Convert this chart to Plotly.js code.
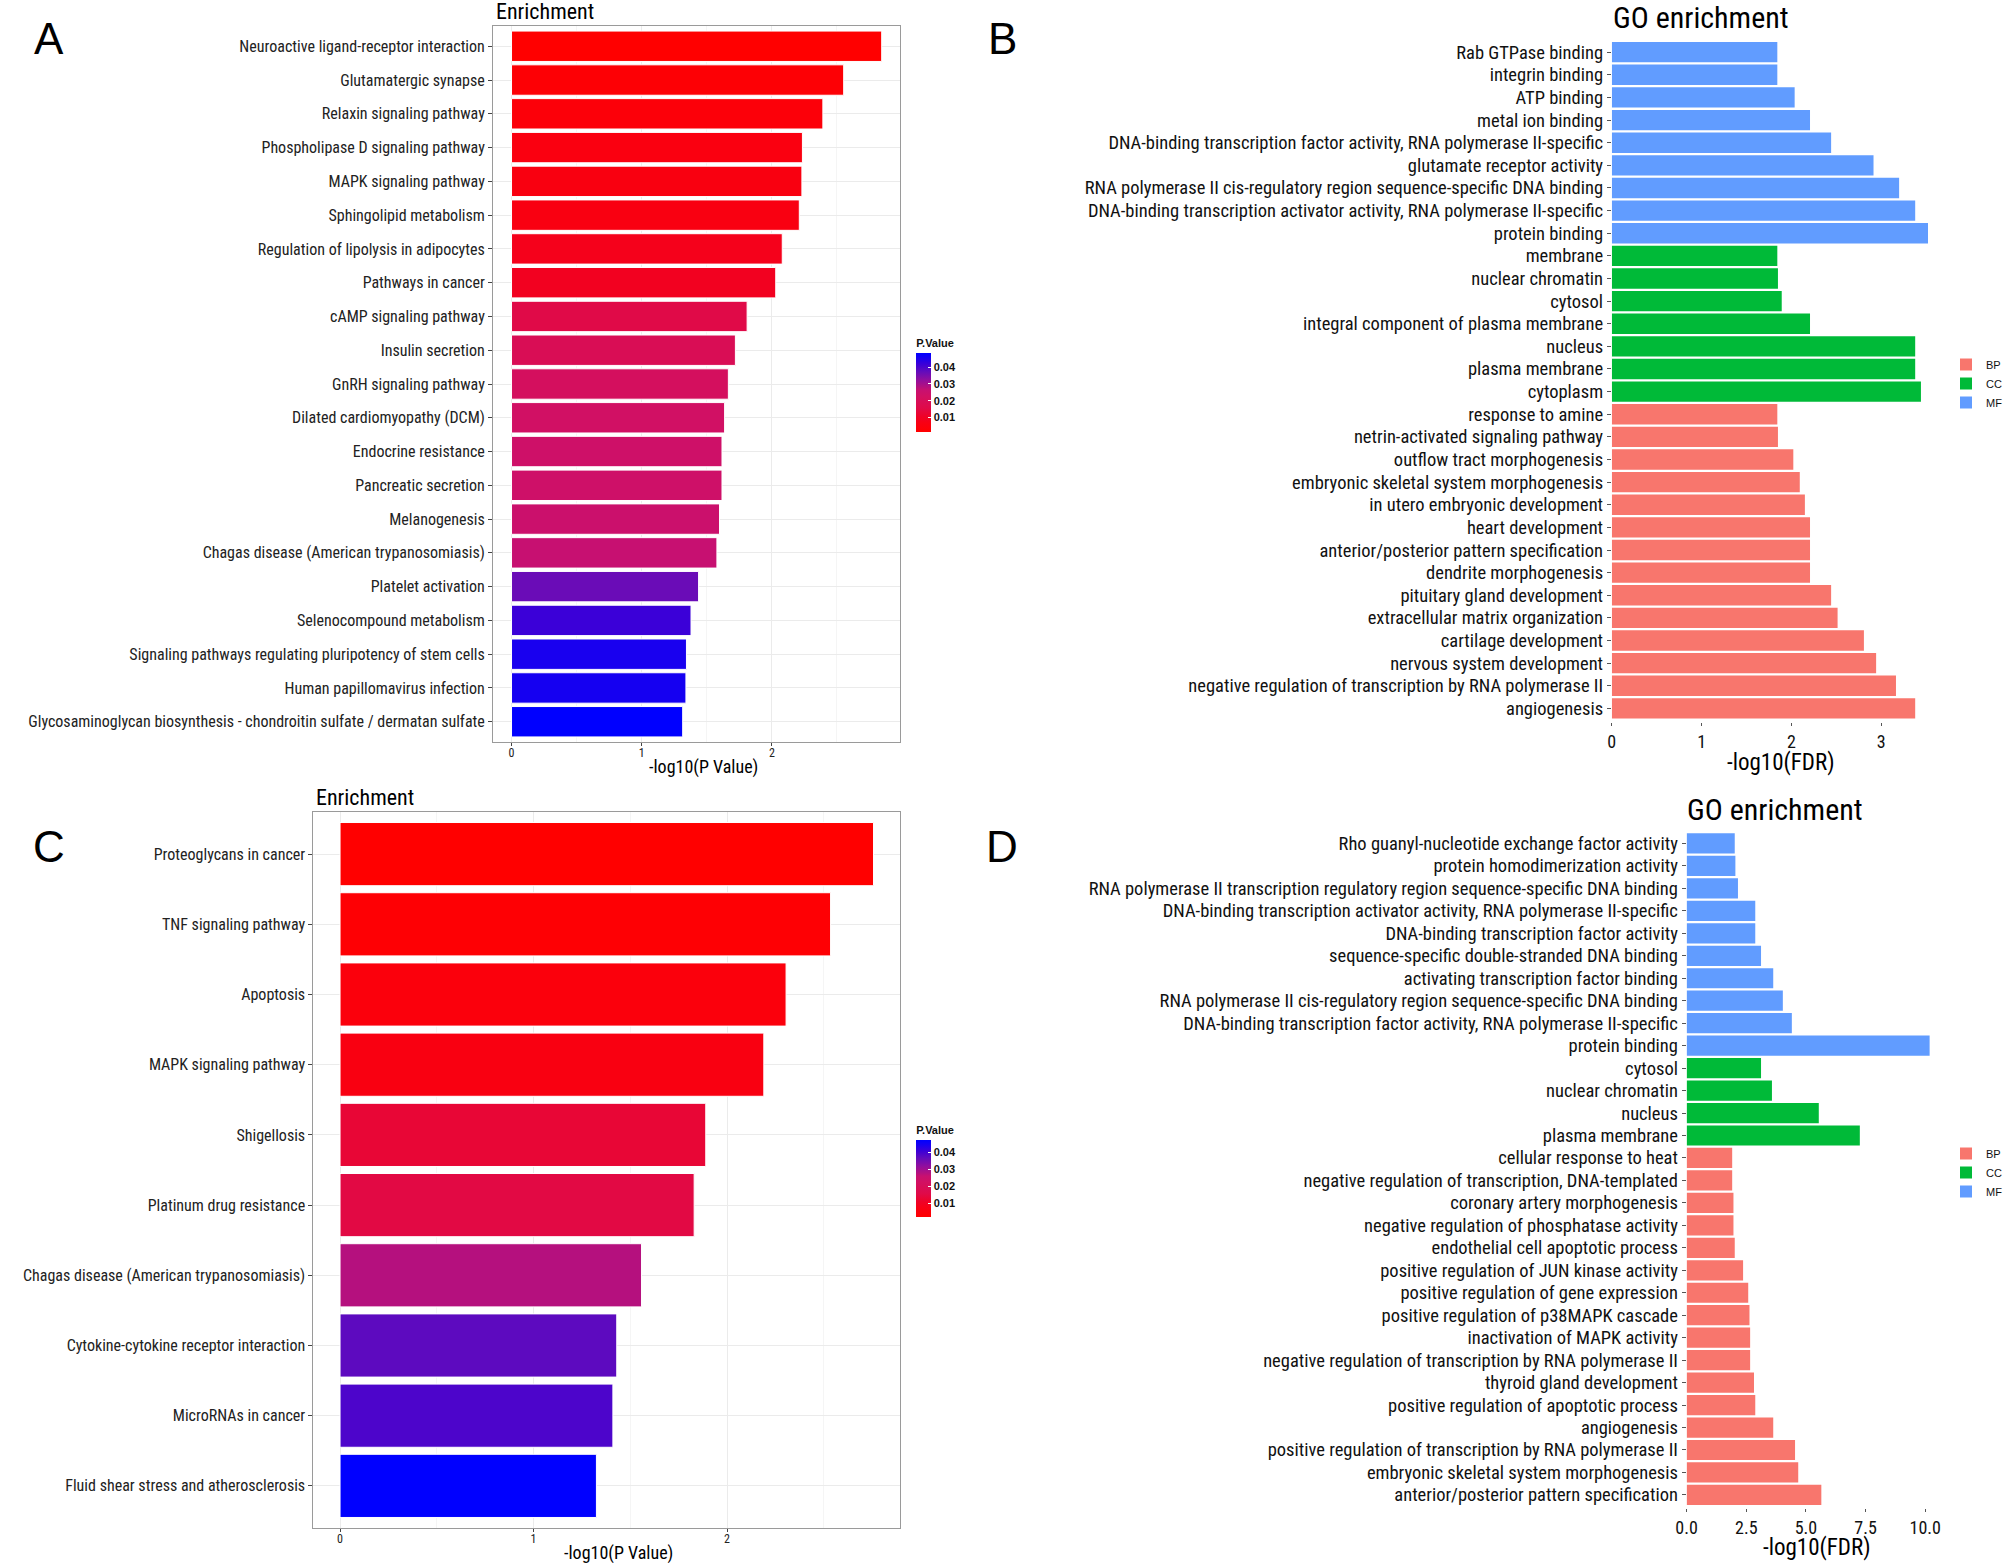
<!DOCTYPE html>
<html>
<head>
<meta charset="utf-8">
<script src="https://cdn.plot.ly/plotly-3.0.1.min.js"></script>
<style>html,body{margin:0;padding:0;background:#fff;}#chart{width:2008px;height:1563px;}</style>
</head>
<body>
<div id="chart"></div>
<script>
// ---------- Panel A (KEGG, -log10 P value) ----------
const aLabels = [
  "Neuroactive ligand-receptor interaction",
  "Glutamatergic synapse",
  "Relaxin signaling pathway",
  "Phospholipase D signaling pathway",
  "MAPK signaling pathway",
  "Sphingolipid metabolism",
  "Regulation of lipolysis in adipocytes",
  "Pathways in cancer",
  "cAMP signaling pathway",
  "Insulin secretion",
  "GnRH signaling pathway",
  "Dilated cardiomyopathy (DCM)",
  "Endocrine resistance",
  "Pancreatic secretion",
  "Melanogenesis",
  "Chagas disease (American trypanosomiasis)",
  "Platelet activation",
  "Selenocompound metabolism",
  "Signaling pathways regulating pluripotency of stem cells",
  "Human papillomavirus infection",
  "Glycosaminoglycan biosynthesis - chondroitin sulfate / dermatan sulfate"
];
const aValues = [2.844, 2.552, 2.392, 2.235, 2.231, 2.211, 2.08, 2.03, 1.81, 1.72, 1.666,
                 1.637, 1.617, 1.617, 1.598, 1.578, 1.437, 1.379, 1.344, 1.340, 1.315];

// ---------- Panel C (KEGG, -log10 P value) ----------
const cLabels = [
  "Proteoglycans in cancer",
  "TNF signaling pathway",
  "Apoptosis",
  "MAPK signaling pathway",
  "Shigellosis",
  "Platinum drug resistance",
  "Chagas disease (American trypanosomiasis)",
  "Cytokine-cytokine receptor interaction",
  "MicroRNAs in cancer",
  "Fluid shear stress and atherosclerosis"
];
const cValues = [2.757, 2.535, 2.305, 2.190, 1.89, 1.83, 1.558, 1.430, 1.410, 1.325];

// ---------- Panel B (GO, -log10 FDR) ----------
const bLabels = [
  "Rab GTPase binding",
  "integrin binding",
  "ATP binding",
  "metal ion binding",
  "DNA-binding transcription factor activity, RNA polymerase II-specific",
  "glutamate receptor activity",
  "RNA polymerase II cis-regulatory region sequence-specific DNA binding",
  "DNA-binding transcription activator activity, RNA polymerase II-specific",
  "protein binding",
  "membrane",
  "nuclear chromatin",
  "cytosol",
  "integral component of plasma membrane",
  "nucleus",
  "plasma membrane",
  "cytoplasm",
  "response to amine",
  "netrin-activated signaling pathway",
  "outflow tract morphogenesis",
  "embryonic skeletal system morphogenesis",
  "in utero embryonic development",
  "heart development",
  "anterior/posterior pattern specification",
  "dendrite morphogenesis",
  "pituitary gland development",
  "extracellular matrix organization",
  "cartilage development",
  "nervous system development",
  "negative regulation of transcription by RNA polymerase II",
  "angiogenesis"
];
const bValues = [1.843, 1.843, 2.036, 2.207, 2.442, 2.914, 3.199, 3.378, 3.521,
                 1.843, 1.850, 1.892, 2.207, 3.378, 3.378, 3.442,
                 1.843, 1.850, 2.021, 2.093, 2.150, 2.207, 2.207, 2.207, 2.442, 2.514, 2.807, 2.943, 3.164, 3.378];
const bGroups = ["MF","MF","MF","MF","MF","MF","MF","MF","MF",
                 "CC","CC","CC","CC","CC","CC","CC",
                 "BP","BP","BP","BP","BP","BP","BP","BP","BP","BP","BP","BP","BP","BP"];

// ---------- Panel D (GO, -log10 FDR) ----------
const dLabels = [
  "Rho guanyl-nucleotide exchange factor activity",
  "protein homodimerization activity",
  "RNA polymerase II transcription regulatory region sequence-specific DNA binding",
  "DNA-binding transcription activator activity, RNA polymerase II-specific",
  "DNA-binding transcription factor activity",
  "sequence-specific double-stranded DNA binding",
  "activating transcription factor binding",
  "RNA polymerase II cis-regulatory region sequence-specific DNA binding",
  "DNA-binding transcription factor activity, RNA polymerase II-specific",
  "protein binding",
  "cytosol",
  "nuclear chromatin",
  "nucleus",
  "plasma membrane",
  "cellular response to heat",
  "negative regulation of transcription, DNA-templated",
  "coronary artery morphogenesis",
  "negative regulation of phosphatase activity",
  "endothelial cell apoptotic process",
  "positive regulation of JUN kinase activity",
  "positive regulation of gene expression",
  "positive regulation of p38MAPK cascade",
  "inactivation of MAPK activity",
  "negative regulation of transcription by RNA polymerase II",
  "thyroid gland development",
  "positive regulation of apoptotic process",
  "angiogenesis",
  "positive regulation of transcription by RNA polymerase II",
  "embryonic skeletal system morphogenesis",
  "anterior/posterior pattern specification"
];
const dValues = [2.016, 2.043, 2.151, 2.876, 2.876, 3.118, 3.629, 4.032, 4.409, 10.19,
                 3.118, 3.575, 5.538, 7.258,
                 1.909, 1.909, 1.962, 1.962, 2.016, 2.366, 2.581, 2.634, 2.661, 2.661, 2.823, 2.876, 3.629, 4.543, 4.677, 5.645];
const dGroups = ["MF","MF","MF","MF","MF","MF","MF","MF","MF","MF",
                 "CC","CC","CC","CC",
                 "BP","BP","BP","BP","BP","BP","BP","BP","BP","BP","BP","BP","BP","BP","BP","BP"];

const groupNames = ["BP", "CC", "MF"];
const groupColors = {BP: "#F8766D", CC: "#00BA38", MF: "#619CFF"};
const pTicks = [0.01, 0.02, 0.03, 0.04];

// ---------- styling ----------
const W = 2008, H = 1563;
const NARROW = "Roboto Condensed, Liberation Sans Narrow, Arial Narrow, sans-serif";
const SANS = "Liberation Sans, Arial, sans-serif";
const px = v => v / W;
const py = v => 1 - v / H;

const redBlue = [
  [0, "rgb(255,0,0)"], [0.12, "rgb(248,0,20)"], [0.2, "rgb(238,2,40)"], [0.3, "rgb(224,10,72)"],
  [0.45, "rgb(210,16,98)"], [0.53, "rgb(200,16,112)"], [0.58, "rgb(176,16,130)"], [0.66, "rgb(145,14,158)"],
  [0.76, "rgb(100,12,186)"], [0.86, "rgb(58,0,216)"], [0.93, "rgb(26,0,238)"], [1, "rgb(0,0,255)"]
];

function keggTrace(labels, values, xa, ya, cbTop, cbBottom) {
  const p = values.map(v => Math.pow(10, -v));
  return {
    type: "bar", orientation: "h", x: values, y: labels, xaxis: xa, yaxis: ya,
    width: 0.9, showlegend: false, hoverinfo: "x+y",
    marker: {
      color: p, colorscale: redBlue, cmin: Math.min(...p), cmax: Math.max(...p),
      line: {color: "#ffffff", width: 1},
      showscale: true,
      colorbar: {
        x: px(918), xanchor: "left", y: py(cbTop), yanchor: "top",
        len: (cbBottom - cbTop) / H, lenmode: "fraction", thickness: 15, thicknessmode: "pixels",
        xpad: 0, ypad: 0, outlinewidth: 0,
        tickvals: pTicks, ticktext: pTicks.map(t => t.toFixed(2)),
        ticks: "inside", ticklen: 3, tickcolor: "#ffffff",
        tickfont: {family: SANS, size: 11, color: "#111", weight: "bold"},
        title: {text: "P.Value", side: "top", font: {family: SANS, size: 11, color: "#111", weight: "bold"}}
      }
    }
  };
}

function goTraces(labels, values, groups, xa, ya, legendId) {
  return groupNames.map(g => {
    const idx = labels.map((_, i) => i).filter(i => groups[i] === g);
    return {
      type: "bar", orientation: "h", name: g,
      x: idx.map(i => values[i]), y: idx.map(i => labels[i]),
      xaxis: xa, yaxis: ya, width: 0.9, legend: legendId,
      marker: {color: groupColors[g], line: {width: 0}},
      hoverinfo: "x+y"
    };
  });
}

const data = [
  keggTrace(aLabels, aValues, "x", "y", 336, 432),
  keggTrace(cLabels, cValues, "x3", "y3", 1123, 1217),
  ...goTraces(bLabels, bValues, bGroups, "x2", "y2", "legend"),
  ...goTraces(dLabels, dValues, dGroups, "x4", "y4", "legend2")
];

function keggX(domain, maxV, anchor) {
  const pad = 0.05 * maxV;
  return {
    domain: domain, anchor: anchor, range: [-pad, maxV + pad], autorange: false, automargin: false,
    tickvals: [0, 1, 2], ticktext: ["0", "1", "2"], ticks: "outside", ticklen: 3, tickcolor: "#444",
    ticklabelstandoff: -3,
    tickfont: {family: NARROW, size: 12, color: "#222"},
    showgrid: true, gridcolor: "#ebebeb", gridwidth: 1, zeroline: false,
    minor: {dtick: 0.5, tick0: 0, showgrid: true, gridcolor: "#f5f5f5", gridwidth: 1, ticks: ""},
    showline: true, mirror: true, linecolor: "#9a9a9a", linewidth: 1
  };
}
function keggY(domain, labels, anchor) {
  return {
    domain: domain, anchor: anchor, type: "category", categoryorder: "array", categoryarray: labels,
    range: [labels.length - 0.4, -0.6], autorange: false, automargin: false,
    ticks: "outside", ticklen: 4, tickcolor: "#444",
    tickfont: {family: NARROW, size: 16, color: "#222"},
    showgrid: true, gridcolor: "#ebebeb", gridwidth: 1, zeroline: false,
    showline: true, mirror: true, linecolor: "#9a9a9a", linewidth: 1
  };
}
function goX(domain, maxV, tickvals, ticktext, anchor) {
  return {
    domain: domain, anchor: anchor, range: [0, maxV], autorange: false, automargin: false,
    tickvals: tickvals, ticktext: ticktext, ticks: "outside", ticklen: 3, tickcolor: "#555",
    tickfont: {family: NARROW, size: 18, color: "#111"},
    showgrid: false, zeroline: false, showline: false
  };
}
function goY(domain, labels, anchor) {
  return {
    domain: domain, anchor: anchor, type: "category", categoryorder: "array", categoryarray: labels,
    range: [labels.length - 0.4, -0.6], autorange: false, automargin: false,
    ticks: "outside", ticklen: 4, tickcolor: "#555",
    tickfont: {family: NARROW, size: 18.5, color: "#111"},
    showgrid: false, zeroline: false, showline: false
  };
}

const bMax = Math.max(...bValues);
const dMax = Math.max(...dValues);

function note(text, x, y, size, family, anchor) {
  return {text: text, x: px(x), y: py(y), xref: "paper", yref: "paper", xanchor: anchor || "center",
          yanchor: "middle", showarrow: false, font: {family: family, size: size, color: "#000"}};
}

const layout = {
  width: W, height: H, margin: {l: 0, r: 0, t: 0, b: 0},
  paper_bgcolor: "#ffffff", plot_bgcolor: "#ffffff",
  barmode: "overlay", bargap: 0.1,
  font: {family: NARROW, color: "#111"},
  xaxis: keggX([px(494), px(902)], Math.max(...aValues), "y"),
  yaxis: keggY([py(742), py(26)], aLabels, "x"),
  xaxis3: keggX([px(314), px(902)], Math.max(...cValues), "y3"),
  yaxis3: keggY([py(1528), py(812)], cLabels, "x3"),
  xaxis2: goX([px(1615), px(1615 + 90 * bMax)], bMax, [0, 1, 2, 3], ["0", "1", "2", "3"], "y2"),
  yaxis2: goY([py(722), py(38.6)], bLabels, "x2"),
  xaxis4: goX([px(1690), px(1690 + 23.91 * dMax)], dMax, [0, 2.5, 5, 7.5, 10], ["0.0", "2.5", "5.0", "7.5", "10.0"], "y4"),
  yaxis4: goY([py(1508.4), py(830)], dLabels, "x4"),
  legend: {x: px(1950), xanchor: "left", y: py(350), yanchor: "top", bgcolor: "rgba(0,0,0,0)",
           font: {family: SANS, size: 11, color: "#111"}, traceorder: "normal", itemwidth: 30, tracegroupgap: 0},
  legend2: {x: px(1950), xanchor: "left", y: py(1139), yanchor: "top", bgcolor: "rgba(0,0,0,0)",
            font: {family: SANS, size: 11, color: "#111"}, traceorder: "normal", itemwidth: 30, tracegroupgap: 0},
  annotations: [
    note("A", 49, 38, 44, SANS),
    note("B", 1004, 38, 44, SANS),
    note("C", 49, 846, 44, SANS),
    note("D", 1004, 846, 44, SANS),
    note("Enrichment", 495, 12, 22, NARROW, "left"),
    note("Enrichment", 315, 797, 22, NARROW, "left"),
    note("GO enrichment", 1704, 18, 30, NARROW),
    note("GO enrichment", 1779, 809, 30, NARROW),
    note("-log10(P Value)", 705, 767, 18, NARROW),
    note("-log10(P Value)", 620, 1553, 18, NARROW),
    note("-log10(FDR)", 1785, 762, 23, NARROW),
    note("-log10(FDR)", 1821, 1547, 23, NARROW)
  ]
};

Plotly.newPlot("chart", data, layout, {displayModeBar: false, staticPlot: true});
</script>
</body>
</html>
